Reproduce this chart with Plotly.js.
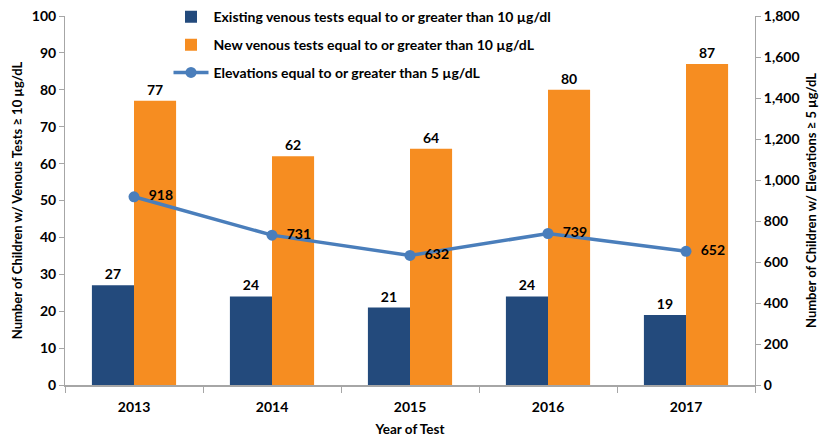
<!DOCTYPE html>
<html>
<head>
<meta charset="utf-8">
<script src="https://cdn.plot.ly/plotly-3.0.1.min.js"></script>
<style>html,body{margin:0;padding:0;background:#fff;}#chart{width:823px;height:440px;}</style>
</head>
<body>
<div id="chart"></div>
<script>
const years = ["2013", "2014", "2015", "2016", "2017"];
const existingVenous = [27, 24, 21, 24, 19];
const newVenous = [77, 62, 64, 80, 87];
const elevations = [918, 731, 632, 739, 652];

const FONT = "Lato, 'Open Sans', sans-serif";
const boldFont = (s) => ({family: FONT, size: s, color: "#000", weight: "bold"});

const traces = [
  {
    type: "bar", x: years, y: existingVenous,
    name: "Existing venous tests equal to or greater than 10 µg/dl",
    marker: {color: "#234a7c"},
    text: existingVenous.map(String), textposition: "outside",
    textfont: boldFont(14),
    cliponaxis: false, legend: "legend", hoverinfo: "skip"
  },
  {
    type: "bar", x: years, y: newVenous,
    name: "New venous tests equal to or greater than 10 µg/dL",
    marker: {color: "#f68d21"},
    text: newVenous.map(String), textposition: "outside",
    textfont: boldFont(14),
    cliponaxis: false, legend: "legend2", hoverinfo: "skip"
  },
  {
    type: "scatter", mode: "lines+markers+text", x: years, y: elevations,
    yaxis: "y2",
    name: "Elevations equal to or greater than 5 µg/dL",
    line: {color: "#4a7ebb", width: 3.5},
    marker: {color: "#4a7ebb", size: 11},
    text: elevations.map(v => "\u00a0\u00a0" + v), textposition: "middle right",
    textfont: boldFont(14),
    cliponaxis: false, legend: "legend3", hoverinfo: "skip"
  }
];

const legBase = {
  x: 0.150, xanchor: "left", yanchor: "middle",
  bgcolor: "rgba(0,0,0,0)", itemwidth: 35,
  font: boldFont(14)
};

const layout = {
  width: 823, height: 440,
  margin: {l: 65, r: 68, t: 16, b: 55, autoexpand: false},
  paper_bgcolor: "#fff", plot_bgcolor: "#fff",
  font: {family: FONT, color: "#000"},
  barmode: "group", bargap: 0.39, bargroupgap: 0,
  showlegend: true,
  legend: Object.assign({}, legBase, {y: 0.997}),
  legend2: Object.assign({}, legBase, {y: 0.921}),
  legend3: Object.assign({}, legBase, {y: 0.846}),
  xaxis: {
    type: "category",
    showline: true, linecolor: "#a6a6a6", linewidth: 1.5,
    ticks: "outside", ticklen: 6, tickcolor: "#a6a6a6",
    tickson: "boundaries", ticklabelstandoff: 9,
    tickfont: boldFont(14),
    title: {text: "Year of Test", font: boldFont(13.5), standoff: 10}
  },
  yaxis: {
    range: [0, 100], dtick: 10, showgrid: false, zeroline: false,
    showline: true, linecolor: "#a6a6a6", linewidth: 1,
    ticks: "outside", ticklen: 5, tickcolor: "#a6a6a6",
    tickfont: boldFont(14),
    title: {text: "Number of Children w/ Venous Tests ≥ 10 µg/dL", font: boldFont(13), standoff: 6}
  },
  yaxis2: {
    overlaying: "y", side: "right",
    range: [0, 1800], dtick: 200, tickformat: ",", showgrid: false, zeroline: false,
    showline: true, linecolor: "#a6a6a6", linewidth: 1,
    ticks: "outside", ticklen: 5, tickcolor: "#a6a6a6",
    tickfont: boldFont(14),
    title: {text: "Number of Children w/ Elevations ≥ 5 µg/dL", font: boldFont(13), standoff: 8}
  }
};

Plotly.newPlot("chart", traces, layout, {displayModeBar: false, staticPlot: true});
</script>
</body>
</html>
